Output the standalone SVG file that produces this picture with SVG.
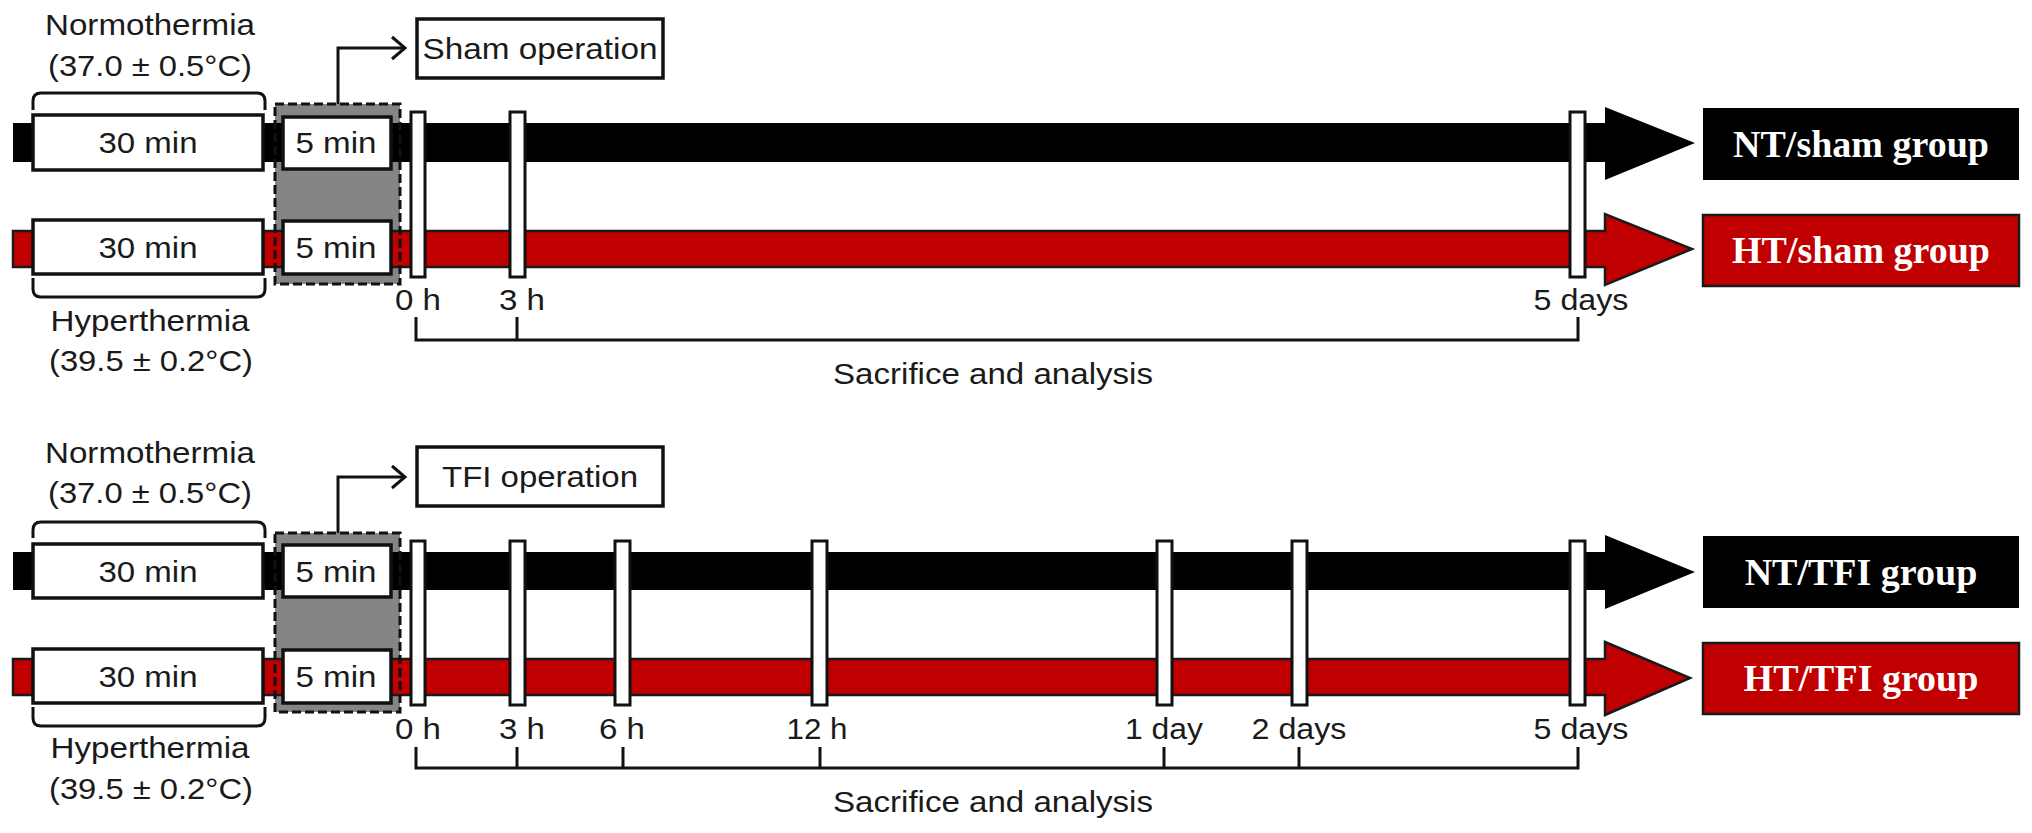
<svg xmlns="http://www.w3.org/2000/svg" width="2032" height="833" viewBox="0 0 2032 833">
<style>
.t{font-family:"Liberation Sans",Arial,sans-serif;font-size:29px;fill:#1a1a1a;text-anchor:middle}
.g{font-family:"Liberation Serif","Times New Roman",serif;font-size:38px;font-weight:bold;fill:#fff;text-anchor:middle}
.box{fill:#fff;stroke:#111;stroke-width:3.5}
.tick{fill:#fff;stroke:#111;stroke-width:3}
.ln{fill:none;stroke:#111;stroke-width:3}
.dash{fill:none;stroke:#111;stroke-width:3;stroke-dasharray:9 4}
.gray{fill:#858585}
.nt{fill:#000}
.ht{fill:#c00000;stroke:#1a1a1a;stroke-width:2.5}
</style>

<!-- ===== TOP PANEL ===== -->
<g id="top-panel">
  <g id="top-labels">
    <text class="t" x="150" y="35" textLength="210" lengthAdjust="spacingAndGlyphs">Normothermia</text>
    <text class="t" x="150" y="76" textLength="204" lengthAdjust="spacingAndGlyphs">(37.0 ± 0.5°C)</text>
    <text class="t" x="150" y="331" textLength="199" lengthAdjust="spacingAndGlyphs">Hyperthermia</text>
    <text class="t" x="151" y="371" textLength="204" lengthAdjust="spacingAndGlyphs">(39.5 ± 0.2°C)</text>
    <path class="ln" d="M33,110 V101 Q33,93 41,93 H257 Q265,93 265,101 V110"/>
    <path class="ln" d="M33,278 V289 Q33,297 41,297 H257 Q265,297 265,289 V278"/>
  </g>
  <g id="top-stimulus-bg">
    <rect class="gray" x="275" y="104" width="125" height="180"/>
  </g>
  <g id="top-nt-bar">
    <path class="nt" d="M13,123 H1605 V107 L1695,143 L1605,180 V162 H13 Z"/>
  </g>
  <g id="top-ht-bar">
    <path class="ht" d="M13,231 H1605 V214 L1692,249 L1605,285 V267 H13 Z"/>
  </g>
  <g id="top-stimulus">
    <rect class="dash" x="275" y="104" width="125" height="180"/>
  </g>
  <g id="top-nt-30">
    <rect class="box" x="33" y="115" width="230" height="55"/>
    <text class="t" x="148" y="153" textLength="99" lengthAdjust="spacingAndGlyphs">30 min</text>
  </g>
  <g id="top-nt-5">
    <rect class="box" x="283" y="117" width="108" height="52"/>
    <text class="t" x="336" y="153" textLength="81" lengthAdjust="spacingAndGlyphs">5 min</text>
  </g>
  <g id="top-ht-30">
    <rect class="box" x="33" y="220" width="230" height="54"/>
    <text class="t" x="148" y="258" textLength="99" lengthAdjust="spacingAndGlyphs">30 min</text>
  </g>
  <g id="top-ht-5">
    <rect class="box" x="283" y="221" width="108" height="53"/>
    <text class="t" x="336" y="258" textLength="81" lengthAdjust="spacingAndGlyphs">5 min</text>
  </g>
  <g id="top-operation">
    <rect class="box" x="417" y="19" width="246" height="59"/>
    <text class="t" x="540" y="59" textLength="235" lengthAdjust="spacingAndGlyphs">Sham operation</text>
  </g>
  <g id="top-ticks">
    <rect class="tick" x="411" y="112" width="14" height="165"/>
    <rect class="tick" x="510" y="112" width="15" height="165"/>
    <rect class="tick" x="1570" y="112" width="15" height="165"/>
    <text class="t" x="418" y="310" textLength="46" lengthAdjust="spacingAndGlyphs">0 h</text>
    <text class="t" x="522" y="310" textLength="46" lengthAdjust="spacingAndGlyphs">3 h</text>
    <text class="t" x="1581" y="310" textLength="95" lengthAdjust="spacingAndGlyphs">5 days</text>
  </g>
  <g id="top-nt-group">
    <rect x="1703" y="108" width="316" height="72" fill="#000"/>
    <text class="g" x="1861" y="157">NT/sham group</text>
  </g>
  <g id="top-ht-group">
    <rect x="1703" y="215" width="316" height="71" fill="#c00000" stroke="#1a1a1a" stroke-width="2.5"/>
    <text class="g" x="1861" y="263">HT/sham group</text>
  </g>
  <g id="top-sacrifice">
    <text class="t" x="993" y="384" textLength="320" lengthAdjust="spacingAndGlyphs">Sacrifice and analysis</text>
  </g>
</g>

<!-- ===== BOTTOM PANEL ===== -->
<g id="bottom-panel">
  <g id="bottom-labels">
    <text class="t" x="150" y="463" textLength="210" lengthAdjust="spacingAndGlyphs">Normothermia</text>
    <text class="t" x="150" y="503" textLength="204" lengthAdjust="spacingAndGlyphs">(37.0 ± 0.5°C)</text>
    <text class="t" x="150" y="758" textLength="199" lengthAdjust="spacingAndGlyphs">Hyperthermia</text>
    <text class="t" x="151" y="799" textLength="204" lengthAdjust="spacingAndGlyphs">(39.5 ± 0.2°C)</text>
    <path class="ln" d="M33,538 V530 Q33,522 41,522 H257 Q265,522 265,530 V538"/>
    <path class="ln" d="M33,707 V718 Q33,726 41,726 H257 Q265,726 265,718 V707"/>
  </g>
  <g id="bottom-stimulus-bg">
    <rect class="gray" x="275" y="533" width="125" height="179"/>
  </g>
  <g id="bottom-nt-bar">
    <path class="nt" d="M13,552 H1605 V535 L1695,572 L1605,609 V590 H13 Z"/>
  </g>
  <g id="bottom-ht-bar">
    <path class="ht" d="M13,659 H1605 V642 L1690,678 L1605,715 V695 H13 Z"/>
  </g>
  <g id="bottom-stimulus">
    <rect class="dash" x="275" y="533" width="125" height="179"/>
  </g>
  <g id="bottom-nt-30">
    <rect class="box" x="33" y="544" width="230" height="54"/>
    <text class="t" x="148" y="582" textLength="99" lengthAdjust="spacingAndGlyphs">30 min</text>
  </g>
  <g id="bottom-nt-5">
    <rect class="box" x="283" y="545" width="108" height="52"/>
    <text class="t" x="336" y="582" textLength="81" lengthAdjust="spacingAndGlyphs">5 min</text>
  </g>
  <g id="bottom-ht-30">
    <rect class="box" x="33" y="649" width="230" height="54"/>
    <text class="t" x="148" y="687" textLength="99" lengthAdjust="spacingAndGlyphs">30 min</text>
  </g>
  <g id="bottom-ht-5">
    <rect class="box" x="283" y="650" width="108" height="53"/>
    <text class="t" x="336" y="687" textLength="81" lengthAdjust="spacingAndGlyphs">5 min</text>
  </g>
  <g id="bottom-operation">
    <rect class="box" x="417" y="447" width="246" height="59"/>
    <text class="t" x="540" y="487" textLength="196" lengthAdjust="spacingAndGlyphs">TFI operation</text>
  </g>
  <g id="bottom-ticks">
    <rect class="tick" x="411" y="541" width="14" height="164"/>
    <rect class="tick" x="510" y="541" width="15" height="164"/>
    <rect class="tick" x="615" y="541" width="15" height="164"/>
    <rect class="tick" x="812" y="541" width="15" height="164"/>
    <rect class="tick" x="1157" y="541" width="15" height="164"/>
    <rect class="tick" x="1292" y="541" width="15" height="164"/>
    <rect class="tick" x="1570" y="541" width="15" height="164"/>
    <text class="t" x="418" y="739" textLength="46" lengthAdjust="spacingAndGlyphs">0 h</text>
    <text class="t" x="522" y="739" textLength="46" lengthAdjust="spacingAndGlyphs">3 h</text>
    <text class="t" x="622" y="739" textLength="46" lengthAdjust="spacingAndGlyphs">6 h</text>
    <text class="t" x="817" y="739" textLength="61" lengthAdjust="spacingAndGlyphs">12 h</text>
    <text class="t" x="1164" y="739" textLength="78" lengthAdjust="spacingAndGlyphs">1 day</text>
    <text class="t" x="1299" y="739" textLength="95" lengthAdjust="spacingAndGlyphs">2 days</text>
    <text class="t" x="1581" y="739" textLength="95" lengthAdjust="spacingAndGlyphs">5 days</text>
  </g>
  <g id="bottom-nt-group">
    <rect x="1703" y="536" width="316" height="72" fill="#000"/>
    <text class="g" x="1861" y="585">NT/TFI group</text>
  </g>
  <g id="bottom-ht-group">
    <rect x="1703" y="643" width="316" height="71" fill="#c00000" stroke="#1a1a1a" stroke-width="2.5"/>
    <text class="g" x="1861" y="691">HT/TFI group</text>
  </g>
  <g id="bottom-sacrifice">
    <text class="t" x="993" y="812" textLength="320" lengthAdjust="spacingAndGlyphs">Sacrifice and analysis</text>
  </g>
</g>

<!-- ===== CONNECTORS ===== -->
<g id="connectors" class="ln">
  <path d="M338,104 V48 H404"/>
  <path d="M392,37 L405,48 L392,59"/>
  <path d="M338,533 V477 H404"/>
  <path d="M392,466 L405,477 L392,488"/>
  <path d="M416,317 V340 H1578 V317 M517,340 V317"/>
  <path d="M416,747 V768 H1578 V747 M517,768 V747 M623,768 V747 M820,768 V747 M1164,768 V747 M1299,768 V747"/>
</g>
</svg>
